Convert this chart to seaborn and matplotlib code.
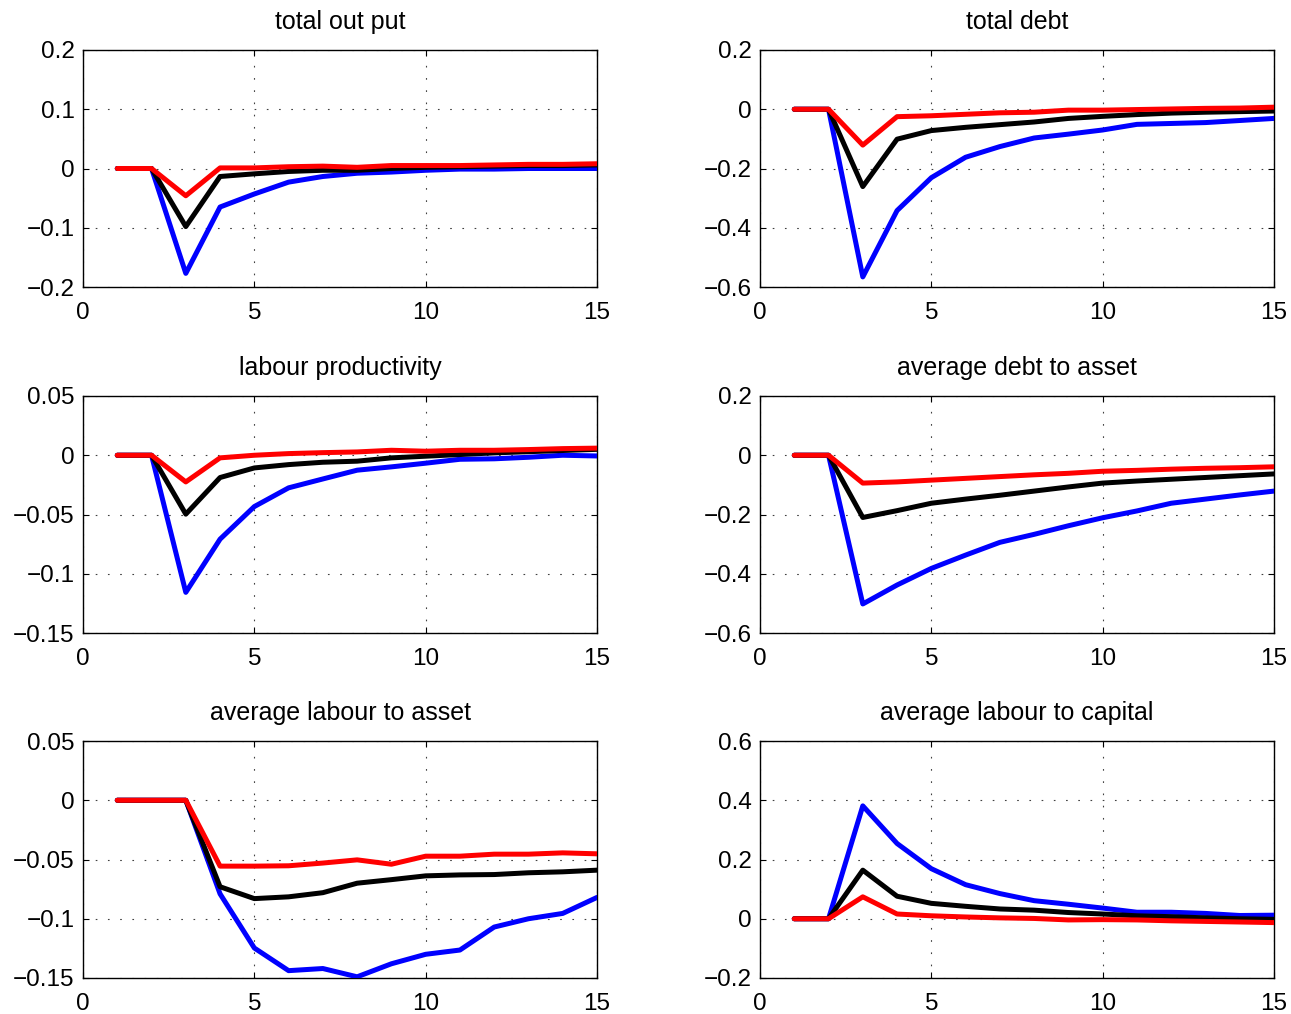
import numpy as np
import pandas as pd
import matplotlib
matplotlib.use("Agg")
import matplotlib.pyplot as plt
import seaborn as sns

sns.set_style("ticks")
plt.rcParams['font.family'] = ['Liberation Sans', 'DejaVu Sans']
plt.rcParams['text.color'] = 'k'
plt.rcParams['xtick.color'] = 'k'
plt.rcParams['ytick.color'] = 'k'
plt.rcParams['axes.labelcolor'] = 'k'

periods = list(range(1, 16))

titles = ["total out put", "total debt",
          "labour productivity", "average debt to asset",
          "average labour to asset", "average labour to capital"]

series_names = ["blue", "black", "red"]
series_colors = {"blue": "#0000ff", "black": "#000000", "red": "#ff0000"}

# total out put
out_blue = [0, 0, -0.177, -0.065, -0.043, -0.023, -0.0135, -0.008, -0.006, -0.003, -0.001, -0.001, 0.0, 0.0, 0.0]
out_black = [0, 0, -0.098, -0.0135, -0.009, -0.005, -0.003, -0.003, 0.0, 0.002, 0.003, 0.004, 0.005, 0.005, 0.006]
out_red = [0, 0, -0.046, 0.001, 0.001, 0.003, 0.004, 0.002, 0.005, 0.005, 0.005, 0.006, 0.007, 0.007, 0.008]

# total debt
debt_blue = [0, 0, -0.566, -0.342, -0.231, -0.162, -0.126, -0.097, -0.084, -0.070, -0.051, -0.048, -0.045, -0.038, -0.031]
debt_black = [0, 0, -0.261, -0.101, -0.072, -0.061, -0.052, -0.043, -0.031, -0.024, -0.018, -0.013, -0.010, -0.008, -0.006]
debt_red = [0, 0, -0.121, -0.025, -0.022, -0.017, -0.012, -0.010, -0.003, -0.003, -0.001, 0.001, 0.003, 0.004, 0.007]

# labour productivity
lp_blue = [0, 0, -0.1157, -0.0708, -0.0433, -0.0275, -0.020, -0.0126, -0.0098, -0.0067, -0.0034, -0.003, -0.0017, 0.0, -0.0006]
lp_black = [0, 0, -0.0497, -0.0188, -0.0107, -0.0079, -0.0059, -0.005, -0.0022, -0.0008, 0.0006, 0.002, 0.003, 0.004, 0.005]
lp_red = [0, 0, -0.0225, -0.0022, 0.0, 0.0014, 0.0022, 0.0028, 0.0042, 0.0034, 0.0042, 0.0042, 0.0048, 0.0056, 0.006]

# average debt to asset
da_blue = [0, 0, -0.502, -0.438, -0.382, -0.337, -0.294, -0.267, -0.238, -0.211, -0.188, -0.162, -0.148, -0.134, -0.121]
da_black = [0, 0, -0.210, -0.187, -0.162, -0.148, -0.135, -0.121, -0.107, -0.094, -0.087, -0.081, -0.075, -0.069, -0.063]
da_red = [0, 0, -0.094, -0.090, -0.084, -0.078, -0.072, -0.066, -0.061, -0.054, -0.051, -0.047, -0.044, -0.042, -0.039]

# average labour to asset
la_blue = [0, 0, 0, -0.079, -0.1247, -0.1438, -0.142, -0.149, -0.138, -0.130, -0.1264, -0.107, -0.100, -0.0955, -0.082]
la_black = [0, 0, 0, -0.073, -0.083, -0.0815, -0.078, -0.070, -0.067, -0.0638, -0.063, -0.0627, -0.0612, -0.0604, -0.059]
la_red = [0, 0, 0, -0.0556, -0.0556, -0.0553, -0.053, -0.0503, -0.054, -0.0472, -0.0472, -0.0455, -0.0455, -0.0444, -0.0452]

# average labour to capital
lk_blue = [0, 0, 0.381, 0.254, 0.169, 0.115, 0.085, 0.061, 0.049, 0.036, 0.022, 0.022, 0.018, 0.011, 0.012]
lk_black = [0, 0, 0.164, 0.076, 0.052, 0.042, 0.033, 0.029, 0.021, 0.016, 0.010, 0.007, 0.003, 0.0, -0.002]
lk_red = [0, 0, 0.074, 0.016, 0.010, 0.006, 0.003, 0.001, -0.004, -0.003, -0.004, -0.007, -0.009, -0.011, -0.013]

panel_series = [
    (out_blue, out_black, out_red),
    (debt_blue, debt_black, debt_red),
    (lp_blue, lp_black, lp_red),
    (da_blue, da_black, da_red),
    (la_blue, la_black, la_red),
    (lk_blue, lk_black, lk_red),
]

xticks = [0, 5, 10, 15]
xtick_labels = ["0", "5", "10", "15"]

yticks_list = [
    [-0.2, -0.1, 0, 0.1, 0.2],
    [-0.6, -0.4, -0.2, 0, 0.2],
    [-0.15, -0.1, -0.05, 0, 0.05],
    [-0.6, -0.4, -0.2, 0, 0.2],
    [-0.15, -0.1, -0.05, 0, 0.05],
    [-0.2, 0, 0.2, 0.4, 0.6],
]
ytick_labels_list = [
    ["\u22120.2", "\u22120.1", "0", "0.1", "0.2"],
    ["\u22120.6", "\u22120.4", "\u22120.2", "0", "0.2"],
    ["\u22120.15", "\u22120.1", "\u22120.05", "0", "0.05"],
    ["\u22120.6", "\u22120.4", "\u22120.2", "0", "0.2"],
    ["\u22120.15", "\u22120.1", "\u22120.05", "0", "0.05"],
    ["\u22120.2", "0", "0.2", "0.4", "0.6"],
]

fig = plt.figure(figsize=(12.91, 10.14), dpi=100)
lefts = [83 / 1291, 760 / 1291]
width = 514 / 1291
bottoms = [1 - 287 / 1014, 1 - 633 / 1014, 1 - 978 / 1014]
height = 237 / 1014

for i in range(6):
    r, c = divmod(i, 2)
    ax = fig.add_axes([lefts[c], bottoms[r], width, height])
    rows = []
    for name, vals in zip(series_names, panel_series[i]):
        for t, v in zip(periods, vals):
            rows.append({"t": t, "v": v, "series": name})
    df = pd.DataFrame(rows)
    sns.lineplot(data=df, x="t", y="v", hue="series", hue_order=series_names,
                 palette=series_colors, linewidth=3.6, legend=False, ax=ax,
                 zorder=3)
    yt = yticks_list[i]
    ax.set_xlim(0, 15)
    ax.set_ylim(yt[0], yt[-1])
    ax.set_xticks(xticks)
    ax.set_xticklabels(xtick_labels)
    ax.set_yticks(yt)
    ax.set_yticklabels(ytick_labels_list[i])
    ax.set_xlabel("")
    ax.set_ylabel("")
    ax.set_title(titles[i], fontsize=18, pad=15, color="k")
    ax.set_axisbelow(True)
    ax.grid(True, color="0.25", linestyle=(0, (1.5, 9.5)), linewidth=0.8)
    ax.tick_params(direction="in", length=4, width=0.8, top=True, right=True,
                   labelsize=17.5, color="k", labelcolor="k")
    ax.tick_params(axis="x", pad=11)
    ax.tick_params(axis="y", pad=6)
    for sp in ax.spines.values():
        sp.set_visible(True)
        sp.set_linewidth(1.0)
        sp.set_color("k")

fig.savefig("out.png", dpi=100, facecolor="white")
